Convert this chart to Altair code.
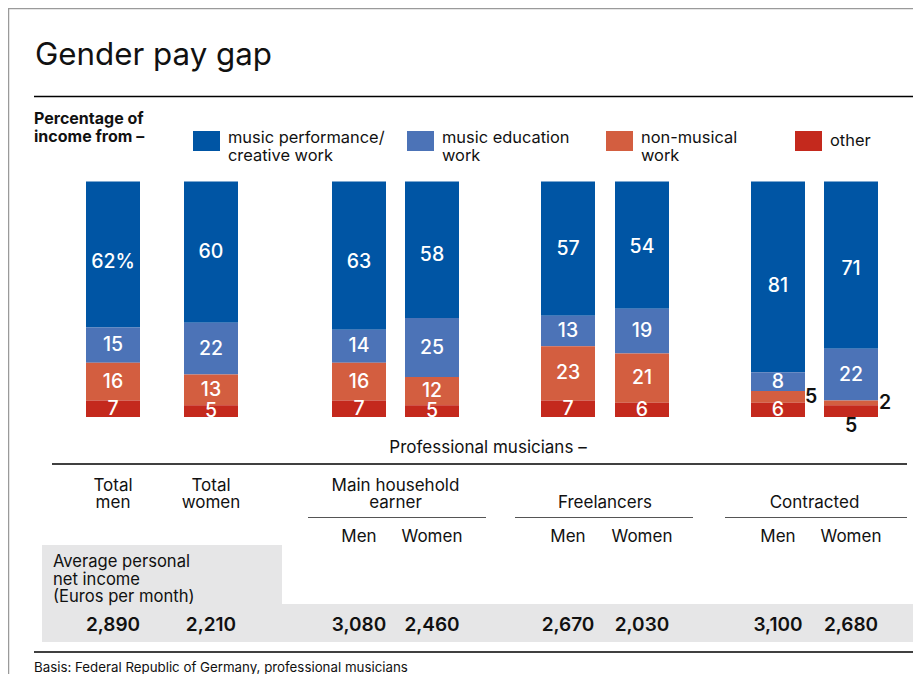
import altair as alt
import pandas as pd

# ---------------- data ----------------
columns = ["Total men", "Total women",
           "Main household earner men", "Main household earner women",
           "Freelancers men", "Freelancers women",
           "Contracted men", "Contracted women"]
categories = ["music performance/\ncreative work", "music education\nwork",
              "non-musical\nwork", "other"]
performance = [62, 60, 63, 58, 57, 54, 81, 71]
education = [15, 22, 14, 25, 13, 19, 8, 22]
non_musical = [16, 13, 16, 12, 23, 21, 5, 2]
other = [7, 5, 7, 5, 7, 6, 6, 5]
income = [2890, 2210, 3080, 2460, 2670, 2030, 3100, 2680]
column_labels = ["Total\nmen", "Total\nwomen", "Men", "Women", "Men", "Women", "Men", "Women"]
group_labels = ["Main household\nearner", "Freelancers", "Contracted"]
colors = ["#0055a4", "#4c73b7", "#d35e40", "#c4291d"]

title = "Gender pay gap"
legend_title = "Percentage of\nincome from \u2013"
subtitle = "Professional musicians \u2013"
income_label = "Average personal\nnet income\n(Euros per month)"
footnote = "Basis: Federal Republic of Germany, professional musicians"

# ---------------- layout ----------------
W, H = 905, 666
FONT = "Inter"
INK = "#111111"
col_x = [105, 203, 351, 424, 560, 634, 770, 843]
bar_w = 54
y_range = [409, 173.5]
# labels that sit outside their segment: (column, category) -> x offset, or "below"
outside = {(6, 2): 33, (7, 2): 34, (7, 3): "below"}
# small vertical nudges (in % units) of the top-segment labels, as placed in the original
top_nudge = {0: -3.3, 2: -2.8, 3: -2.0, 5: -1.0, 6: -3.7, 7: -1.8}

xs = alt.Scale(domain=[0, W], range=[0, W], nice=False, zero=False, padding=0)
ys = alt.Scale(domain=[0, 100], range=y_range, nice=False, padding=0)
cs = alt.Scale(domain=categories, range=colors)

series = [performance, education, non_musical, other]
rows = []
for i, col in enumerate(columns):
    for k, cat in enumerate(categories):
        v = series[k][i]
        pos = outside.get((i, k), 0)
        rows.append(dict(
            col=col, cx=col_x[i], cat=cat, ord=3 - k, value=v,
            label=f"{v}%" if (i == 0 and k == 0) else str(v),
            place="in" if pos == 0 else ("below" if pos == "below" else "right"),
            dx=pos if isinstance(pos, int) else 0,
            nudge=top_nudge.get(i, 0) if k == 0 else 0,
        ))
df = pd.DataFrame(rows)

one = pd.DataFrame({"_": [0]})


def txt(text, x, y, size=16, weight=400, align="left", baseline="middle",
        color=INK, lh=None):
    kw = dict(font=FONT, fontSize=size, fontWeight=weight, align=align,
              baseline=baseline, color=color, lineBreak="\n")
    if lh:
        kw["lineHeight"] = lh
    return alt.Chart(one).mark_text(**kw).encode(
        x=alt.value(x), y=alt.value(y), text=alt.value(text))


def hrule(x1, x2, y, color="#000000", w=1.5):
    return alt.Chart(one).mark_rule(color=color, strokeWidth=w).encode(
        x=alt.value(x1), x2=alt.value(x2), y=alt.value(y))


def box(x1, x2, y1, y2, color):
    return alt.Chart(one).mark_rect(color=color).encode(
        x=alt.value(x1), x2=alt.value(x2), y=alt.value(y1), y2=alt.value(y2))


layers = []

# frame
layers.append(hrule(0, W, 0.5, "#9a9a9a", 1.5))
layers.append(alt.Chart(one).mark_rule(color="#9a9a9a", strokeWidth=1.5).encode(
    x=alt.value(0.5), y=alt.value(0), y2=alt.value(H)))

# title
layers.append(txt(title, 27, 57, size=31.3, baseline="alphabetic"))
layers.append(hrule(26, W, 88.5))

# legend
layers.append(txt(legend_title, 26, 111, size=16, weight=700, lh=18))
leg_x = [185, 399, 598, 787]
for k, cat in enumerate(categories):
    layers.append(box(leg_x[k], leg_x[k] + 27, 123, 143, colors[k]))
    n_lines = cat.count("\n") + 1
    layers.append(txt(cat, leg_x[k] + 35, 130 if n_lines > 1 else 133, size=16.4, lh=18))

# stacked bars
base = alt.Chart(df)
layers.append(base.mark_bar(size=bar_w).encode(
    x=alt.X("cx:Q", scale=xs, axis=None),
    y=alt.Y("value:Q", stack="zero", scale=ys, axis=None),
    color=alt.Color("cat:N", scale=cs, legend=None),
    order=alt.Order("ord:Q", sort="ascending"),
))

stacked = base.transform_stack(
    stack="value", as_=["y0", "y1"], groupby=["col"],
    sort=[alt.SortField("ord", order="ascending")]
).transform_calculate(
    lx="datum.cx + datum.dx",
    ly="datum.place == 'below' ? -3.8 : (datum.y0 + datum.y1) / 2 + datum.nudge",
)
layers.append(stacked.transform_filter("datum.place == 'in'").mark_text(
    font=FONT, fontSize=19.5, fontWeight=500, color="white", baseline="middle"
).encode(
    x=alt.X("lx:Q", scale=xs, axis=None),
    y=alt.Y("ly:Q", scale=ys, axis=None),
    text="label:N",
))
layers.append(stacked.transform_filter("datum.place != 'in'").mark_text(
    font=FONT, fontSize=19.5, fontWeight=600, color=INK, baseline="middle"
).encode(
    x=alt.X("lx:Q", scale=xs, axis=None),
    y=alt.Y("ly:Q", scale=ys, axis=None),
    text="label:N",
))

# table section
layers.append(txt(subtitle, 480, 440, size=17, align="center"))
layers.append(hrule(44, 899, 456))

hdr_text = [column_labels[0], column_labels[1]] + group_labels
hdr = pd.DataFrame({
    "text": hdr_text,
    "hx": [col_x[0], col_x[1],
           (col_x[2] + col_x[3]) / 2, (col_x[4] + col_x[5]) / 2, (col_x[6] + col_x[7]) / 2],
    "hy": [495 - 17.5 * t.count("\n") for t in hdr_text],
})
layers.append(alt.Chart(hdr).mark_text(
    font=FONT, fontSize=17, color=INK, baseline="middle", lineBreak="\n", lineHeight=17.5
).encode(x=alt.X("hx:Q", scale=xs, axis=None), y=alt.Y("hy:Q", scale=None, axis=None),
         text="text:N"))

for (a, b) in [(300, 478), (507, 685), (717, 899)]:
    layers.append(hrule(a, b, 509.5, "#555555", 1.2))

sub = pd.DataFrame({"text": column_labels[2:], "cx": col_x[2:]})
layers.append(alt.Chart(sub).mark_text(
    font=FONT, fontSize=17, color=INK, baseline="middle"
).encode(x=alt.X("cx:Q", scale=xs, axis=None), y=alt.value(529), text="text:N"))

layers.append(box(34, 274, 537, 597, "#e6e6e7"))
layers.append(box(34, W, 596, 634, "#e6e6e7"))
layers.append(txt(income_label, 45, 554, size=16.6, lh=17.5))

inc = pd.DataFrame({"col": columns, "cx": col_x, "income": income})
layers.append(alt.Chart(inc).mark_text(
    font=FONT, fontSize=19, fontWeight=600, color=INK, baseline="middle"
).encode(x=alt.X("cx:Q", scale=xs, axis=None), y=alt.value(617),
         text=alt.Text("income:Q", format=",")))

layers.append(hrule(26, W, 644))
layers.append(txt(footnote, 26, 660, size=13.3))

chart = alt.layer(*layers).properties(
    width=W, height=H, padding=0, autosize=alt.AutoSizeParams(type="none"),
    background="white",
).configure_view(stroke=None)

chart.save("out.html", embed_options={"renderer": "svg", "actions": False})
